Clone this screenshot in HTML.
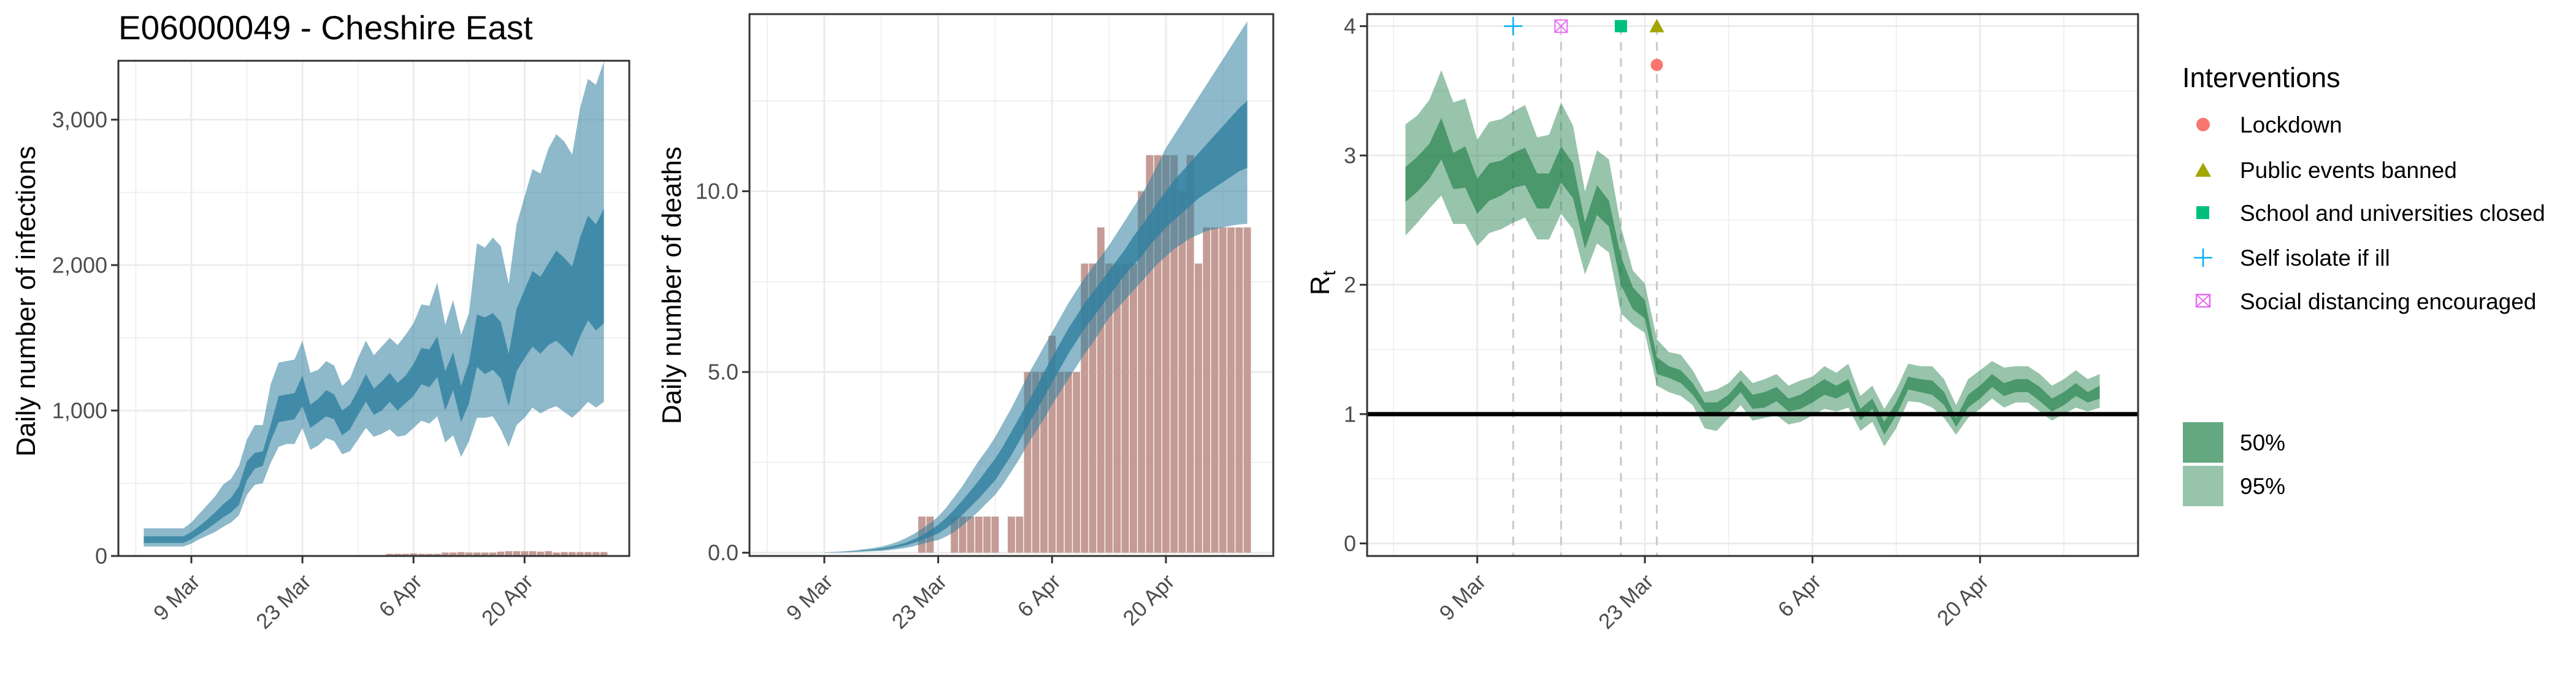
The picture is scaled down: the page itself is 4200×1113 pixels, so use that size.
<!DOCTYPE html>
<html><head><meta charset="utf-8"><style>
html,body{margin:0;padding:0;background:#fff;}
svg{display:block;font-family:"Liberation Sans",Arial,sans-serif;}
</style></head><body>
<svg id="fig" xmlns="http://www.w3.org/2000/svg" width="4200" height="1113" viewBox="0 0 4200 1113">
<rect x="0" y="0" width="4200" height="1113" fill="#fff"/>
<text x="193" y="64" font-size="55" fill="#000">E06000049 - Cheshire East</text>
<g id="p1"></g>
<g id="p2"></g>
<g id="p3"></g>
<g id="legend">
<text x="3558" y="142" font-size="45" fill="#000">Interventions</text>
<g><circle cx="3592" cy="203" r="11" fill="#F8766D"/><text x="3652" y="216" font-size="37">Lockdown</text></g>
<g><polygon points="3579,288 3605,288 3592,265" fill="#A3A500"/><text x="3652" y="290" font-size="37">Public events banned</text></g>
<g><rect x="3581" y="336" width="21" height="21" fill="#00BF7D"/><text x="3652" y="360" font-size="37">School and universities closed</text></g>
<g><path d="M3577 420H3607M3592 405V435" stroke="#00B0F6" stroke-width="2.5" fill="none"/><text x="3652" y="433" font-size="37">Self isolate if ill</text></g>
<g><rect x="3581" y="480" width="22" height="20" fill="none" stroke="#E76BF3" stroke-width="2.5"/><path d="M3581 480L3603 500M3603 480L3581 500" stroke="#E76BF3" stroke-width="2"/><text x="3652" y="504" font-size="37">Social distancing encouraged</text></g>
<g><rect x="3559" y="688" width="66" height="66" fill="#64A882"/><text x="3652" y="734" font-size="37">50%</text></g>
<g><rect x="3559" y="759" width="66" height="66" fill="#98C4AB"/><text x="3652" y="805" font-size="37">95%</text></g>
</g>
</svg>
<script>
// ---- data (day index relative to 9 Mar) ----
const days = []; for (let d = -6; d <= 52; d++) days.push(d);
const xTickLabels = ["9 Mar", "23 Mar", "6 Apr", "20 Apr"];
const xTickDays = [0, 14, 28, 42];
const infU95 = [190,190,190,190,190,190,230,290,350,410,490,530,620,800,900,900,1180,1330,1340,1350,1480,1260,1280,1340,1310,1170,1220,1360,1480,1380,1440,1500,1450,1520,1600,1730,1720,1880,1590,1760,1520,1670,2150,2120,2190,2130,1870,2280,2470,2660,2630,2800,2900,2850,2760,3080,3280,3240,3400];
const infU50 = [135,135,135,135,135,135,165,205,250,300,355,400,480,650,710,720,900,1100,1110,1120,1240,1040,1080,1140,1110,1000,1040,1140,1250,1150,1200,1260,1190,1240,1320,1430,1420,1510,1270,1400,1170,1330,1660,1640,1670,1610,1390,1700,1830,1960,1920,2010,2100,2050,1990,2190,2340,2280,2390];
const infL50 = [90,90,90,90,90,90,115,150,185,225,265,300,350,520,600,620,790,920,930,940,1030,880,920,960,940,830,870,970,1060,970,1000,1060,1000,1050,1100,1180,1160,1230,1000,1140,920,1050,1300,1250,1280,1220,1030,1270,1360,1440,1390,1450,1480,1430,1370,1510,1620,1550,1600];
const infL95 = [65,65,65,65,65,65,85,115,140,165,200,230,280,420,490,500,640,750,770,770,880,730,760,810,790,700,720,800,880,820,840,870,820,830,880,930,910,960,780,830,680,790,950,950,960,870,750,900,950,1020,980,1010,1030,990,950,1000,1060,1020,1060];
const deathDays = []; for (let d = 0; d <= 52; d++) deathDays.push(d);
const deaths = [0,0,0,0,0,0,0,0,0,0,0,0,1,1,0,0,1,1,1,1,1,1,0,1,1,5,5,5,6,5,5,5,8,8,9,8,8,8,8,10,11,11,11,11,10,11,8,9,9,9,9,9,9];
const dU95 = [.01,.02,.03,.05,.07,.1,.13,.17,.23,.3,.4,.52,.66,.82,1.0,1.25,1.55,1.85,2.2,2.55,2.85,3.2,3.6,4.0,4.45,4.9,5.3,5.7,6.1,6.5,6.9,7.25,7.6,7.9,8.2,8.5,8.85,9.2,9.55,9.9,10.3,10.75,11.2,11.55,11.9,12.25,12.6,12.95,13.3,13.65,14.0,14.35,14.7];
const dU50 = [.005,.01,.02,.03,.05,.07,.09,.12,.16,.21,.28,.37,.48,.62,.77,.97,1.2,1.45,1.72,2.0,2.3,2.6,2.95,3.35,3.75,4.15,4.55,5.0,5.4,5.8,6.2,6.55,6.9,7.2,7.5,7.8,8.1,8.4,8.75,9.05,9.35,9.7,10.0,10.3,10.55,10.8,11.05,11.3,11.55,11.8,12.05,12.3,12.5];
const dL50 = [.003,.006,.012,.02,.035,.05,.065,.08,.11,.15,.2,.27,.35,.44,.53,.68,.85,1.05,1.28,1.5,1.75,2.0,2.35,2.7,3.1,3.5,3.9,4.3,4.7,5.1,5.5,5.85,6.2,6.5,6.8,7.1,7.4,7.7,7.95,8.2,8.5,8.75,9.0,9.2,9.4,9.6,9.8,9.95,10.1,10.25,10.4,10.55,10.65];
const dL95 = [.002,.004,.008,.013,.02,.03,.04,.05,.07,.1,.13,.18,.24,.3,.35,.45,.58,.75,.95,1.15,1.38,1.6,1.9,2.25,2.6,3.0,3.35,3.7,4.1,4.45,4.8,5.15,5.5,5.8,6.15,6.5,6.75,7.0,7.25,7.5,7.75,8.0,8.2,8.4,8.55,8.7,8.8,8.9,8.95,9.0,9.05,9.08,9.1];
const rtU95 = [3.24,3.31,3.43,3.66,3.41,3.44,3.12,3.26,3.28,3.34,3.39,3.14,3.16,3.41,3.23,2.72,3.04,2.97,2.45,2.11,2.01,1.58,1.48,1.46,1.34,1.17,1.19,1.24,1.34,1.24,1.27,1.31,1.22,1.26,1.29,1.37,1.32,1.39,1.14,1.22,1.04,1.19,1.39,1.37,1.37,1.27,1.07,1.27,1.34,1.41,1.36,1.37,1.37,1.31,1.22,1.27,1.34,1.27,1.31];
const rtU50 = [2.91,2.99,3.09,3.29,3.02,3.07,2.82,2.94,2.96,3.02,3.06,2.86,2.86,3.07,2.94,2.48,2.77,2.65,2.22,1.98,1.88,1.44,1.37,1.34,1.24,1.09,1.09,1.15,1.26,1.15,1.17,1.21,1.12,1.15,1.21,1.27,1.22,1.27,1.04,1.12,0.94,1.09,1.29,1.27,1.26,1.17,0.97,1.15,1.22,1.31,1.24,1.27,1.27,1.21,1.12,1.17,1.24,1.17,1.22];
const rtL50 = [2.64,2.72,2.82,2.97,2.74,2.75,2.55,2.65,2.69,2.75,2.77,2.59,2.59,2.79,2.67,2.28,2.54,2.45,2.0,1.81,1.74,1.31,1.28,1.24,1.15,1.02,1.0,1.07,1.17,1.04,1.05,1.10,1.02,1.04,1.09,1.15,1.12,1.17,0.95,1.04,0.84,0.99,1.19,1.17,1.15,1.07,0.90,1.05,1.12,1.21,1.14,1.17,1.17,1.10,1.02,1.07,1.14,1.09,1.12];
const rtL95 = [2.38,2.48,2.59,2.69,2.47,2.47,2.30,2.40,2.43,2.48,2.52,2.35,2.35,2.55,2.43,2.08,2.32,2.25,1.78,1.69,1.63,1.22,1.17,1.14,1.07,0.89,0.87,0.97,1.07,0.95,0.97,0.99,0.92,0.94,0.99,1.04,1.02,1.05,0.87,0.94,0.75,0.89,1.10,1.09,1.05,0.97,0.84,0.97,1.04,1.12,1.05,1.09,1.09,1.02,0.95,1.0,1.05,1.02,1.05];
const interventionNames = ["Self isolate if ill","Social distancing encouraged","School and universities closed","Public events banned","Lockdown"];
const interventionDays = [3, 7, 12, 15, 15];
const interventionY = [4, 4, 4, 4, 3.7];

const NS = "http://www.w3.org/2000/svg";
function mk(parent, tag, attrs) {
  const e = document.createElementNS(NS, tag);
  for (const k in attrs) e.setAttribute(k, attrs[k]);
  parent.appendChild(e);
  return e;
}
function scale(d0, d1, r0, r1) { return v => r0 + (v - d0) / (d1 - d0) * (r1 - r0); }

function panel(g, box, ymin, ymax, yMajor, yMinor, yLabels, title, titleX) {
  const x = scale(-9.2, 55.2, box.l, box.r);
  const y = scale(ymin, ymax, box.b, box.t);
  yMinor.forEach(v => { const l = mk(g, "line", {x1: box.l, x2: box.r, y1: y(v), y2: y(v), stroke: "#EBEBEB", "stroke-width": 1.4});
      });
  [-7, 7, 21, 35, 49].forEach(v => { const l = mk(g, "line", {x1: x(v), x2: x(v), y1: box.t, y2: box.b, stroke: "#EBEBEB", "stroke-width": 1.4});
      });
  yMajor.forEach((v, i) => {
    const l = mk(g, "line", {x1: box.l, x2: box.r, y1: y(v), y2: y(v), stroke: "#EBEBEB", "stroke-width": 2.8});
     
    const t = mk(g, "line", {x1: box.l - 12, x2: box.l, y1: y(v), y2: y(v), stroke: "#333", "stroke-width": 3});
     
    const tx = mk(g, "text", {x: box.l - 18, y: y(v) + 12.5, "font-size": 36, fill: "#4D4D4D", "text-anchor": "end"});
    tx.textContent = yLabels[i];
     
  });
  xTickDays.forEach((v, i) => {
    const l = mk(g, "line", {x1: x(v), x2: x(v), y1: box.t, y2: box.b, stroke: "#EBEBEB", "stroke-width": 2.8});
     
    const t = mk(g, "line", {x1: x(v), x2: x(v), y1: box.b, y2: box.b + 12, stroke: "#333", "stroke-width": 3});
     
    const px = x(v) + 16, py = box.b + 44;
    const tx = mk(g, "text", {x: px, y: py, "font-size": 35, fill: "#4D4D4D", "text-anchor": "end", transform: `rotate(-45 ${px} ${py})`});
    tx.textContent = xTickLabels[i];
     
  });
  const yt = mk(g, "text", {x: titleX, y: box.ty, "font-size": 44, fill: "#000", "text-anchor": "middle", transform: `rotate(-90 ${titleX} ${box.ty})`});
  yt.innerHTML = title;
   
  return {x, y};
}
function border(g, box) {
  const r = mk(g, "rect", {x: box.l, y: box.t, width: box.r - box.l, height: box.b - box.t, fill: "none", stroke: "#333", "stroke-width": 3});
   
}
function band(g, xs, lo, hi, sx, sy, fill, op, name) {
  let d = "M" + xs.map((v, i) => sx(v).toFixed(1) + " " + sy(hi[i]).toFixed(1)).join("L");
  for (let i = xs.length - 1; i >= 0; i--) d += "L" + sx(xs[i]).toFixed(1) + " " + sy(lo[i]).toFixed(1);
  const p = mk(g, "path", {d: d + "Z", fill: fill, "fill-opacity": op});
   
}
function bars(g, xs, vals, sx, sy, scaleV) {
  xs.forEach((d, i) => {
    if (vals[i] <= 0) return;
    const w = (sx(1) - sx(0)) * 0.9;
    const r = mk(g, "rect", {x: sx(d) - w / 2, y: sy(vals[i] * scaleV), width: w, height: sy(0) - sy(vals[i] * scaleV), fill: "#C49C95"});
     
  });
}

// Panel 1
const b1 = {l: 193, r: 1026, t: 99, b: 906, ty: 491};
const g1 = document.getElementById("p1");
const a1 = panel(g1, b1, 0, 3405, [0,1000,2000,3000], [500,1500,2500], ["0","1,000","2,000","3,000"], "Daily number of infections", 57);
bars(g1, deathDays, deaths, a1.x, a1.y, 3);
band(g1, days, infL95, infU95, a1.x, a1.y, "#30809F", 0.55, "infections-95-band");
band(g1, days, infL50, infU50, a1.x, a1.y, "#30809F", 0.8, "infections-50-band");
border(g1, b1);

// Panel 2
const b2 = {l: 1222, r: 2076, t: 23, b: 906, ty: 465};
const g2 = document.getElementById("p2");
const a2 = panel(g2, b2, -0.09, 14.9, [0,5,10], [2.5,7.5,12.5], ["0.0","5.0","10.0"], "Daily number of deaths", 1110);
bars(g2, deathDays, deaths, a2.x, a2.y, 1);
band(g2, deathDays, dL95, dU95, a2.x, a2.y, "#30809F", 0.55, "deaths-95-band");
band(g2, deathDays, dL50, dU50, a2.x, a2.y, "#30809F", 0.8, "deaths-50-band");
border(g2, b2);

// Panel 3
const b3 = {l: 2229, r: 3486, t: 23, b: 906, ty: 461};
const g3 = document.getElementById("p3");
const a3 = panel(g3, b3, -0.097, 4.093, [0,1,2,3,4], [0.5,1.5,2.5,3.5], ["0","1","2","3","4"], 'R<tspan font-size="30" dy="10">t</tspan>', 2167);
interventionDays.slice(0, 4).forEach(d => {
  const l = mk(g3, "line", {x1: a3.x(d), x2: a3.x(d), y1: a3.y(4), y2: b3.b, stroke: "#C8C8C8", "stroke-width": 3, "stroke-dasharray": "14 12"});
   
});
band(g3, days, rtL95, rtU95, a3.x, a3.y, "#1A7C44", 0.45, "rt-95-band");
band(g3, days, rtL50, rtU50, a3.x, a3.y, "#1A7C44", 0.62, "rt-50-band");
const hl = mk(g3, "line", {x1: b3.l, x2: b3.r, y1: a3.y(1), y2: a3.y(1), stroke: "#000", "stroke-width": 7});
 
// markers
interventionNames.forEach((n, i) => {
  const cx = a3.x(interventionDays[i]), cy = a3.y(interventionY[i]);
  let m;
  if (n === "Lockdown") m = mk(g3, "circle", {cx, cy, r: 10, fill: "#F8766D"});
  else if (n === "Public events banned") m = mk(g3, "polygon", {points: `${cx-12},${cy+10} ${cx+12},${cy+10} ${cx},${cy-12}`, fill: "#A3A500"});
  else if (n === "School and universities closed") m = mk(g3, "rect", {x: cx - 10, y: cy - 10, width: 20, height: 20, fill: "#00BF7D"});
  else if (n === "Self isolate if ill") m = mk(g3, "path", {d: `M${cx-15} ${cy}H${cx+15}M${cx} ${cy-15}V${cy+15}`, stroke: "#00B0F6", "stroke-width": 2.5, fill: "none"});
  else m = mk(g3, "path", {d: `M${cx-10} ${cy-10}h20v20h-20zM${cx-10} ${cy-10}l20 20M${cx+10} ${cy-10}l-20 20`, stroke: "#E76BF3", "stroke-width": 2, fill: "none"});
   
});
border(g3, b3);
</script>
</body></html>
